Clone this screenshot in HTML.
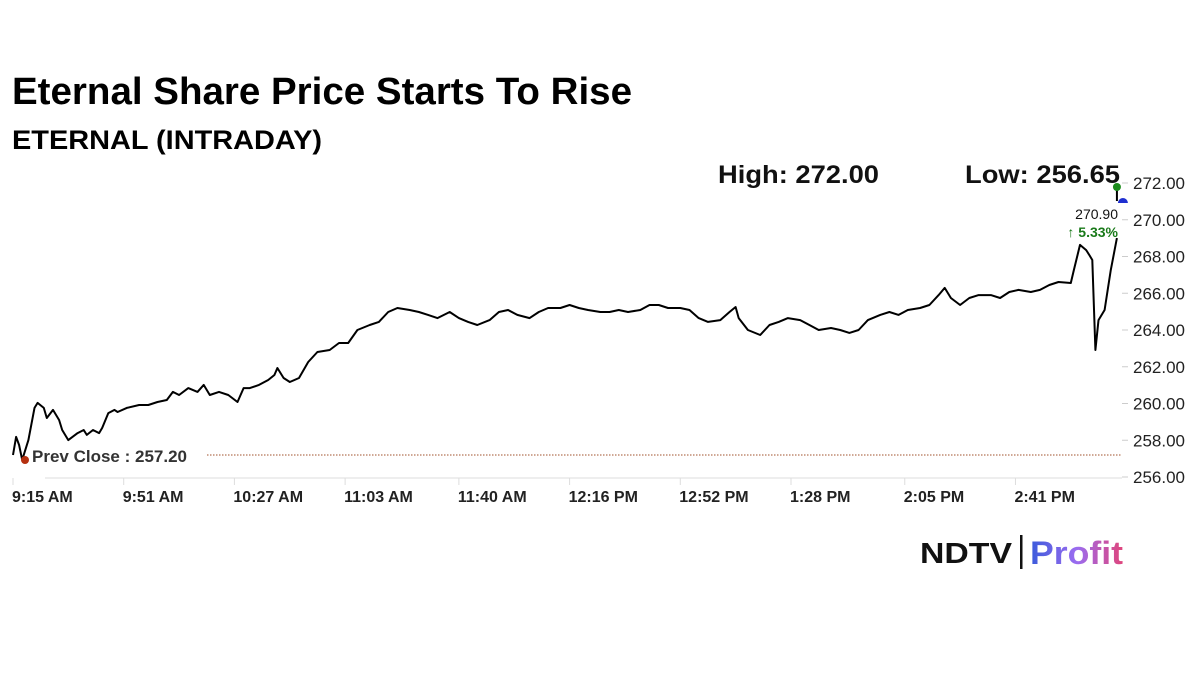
<!DOCTYPE html>
<html><head><meta charset="utf-8"><style>
html,body{margin:0;padding:0;background:#fff;width:1200px;height:675px;overflow:hidden}
svg{display:block;font-family:"Liberation Sans",Arial,sans-serif}
</style></head><body>
<svg id="chart" width="1200" height="675" viewBox="0 0 1200 675">
<defs><linearGradient id="pg" x1="0" x2="1"><stop offset="0" stop-color="#3b5bdb"/><stop offset="0.5" stop-color="#9b6cf0"/><stop offset="1" stop-color="#e0457b"/></linearGradient></defs>
<text x="12" y="104" font-size="38" font-weight="bold" fill="#000" textLength="620" lengthAdjust="spacingAndGlyphs">Eternal Share Price Starts To Rise</text>
<text x="12" y="149" font-size="27" font-weight="bold" fill="#000" textLength="310" lengthAdjust="spacingAndGlyphs">ETERNAL (INTRADAY)</text>
<text x="718" y="183" font-size="25" font-weight="bold" fill="#111" textLength="161" lengthAdjust="spacingAndGlyphs">High: 272.00</text>
<text x="965" y="183" font-size="25" font-weight="bold" fill="#111" textLength="155" lengthAdjust="spacingAndGlyphs">Low: 256.65</text>
<line x1="45" y1="478" x2="1122" y2="478" stroke="#ddd" stroke-width="1"/>
<g id="yaxis"></g>
<g id="xaxis"></g>
<g id="series"></g>
<g>
<text x="920" y="563" font-size="29" font-weight="900" fill="#111" textLength="92" lengthAdjust="spacingAndGlyphs">NDTV</text>
<rect x="1020" y="535" width="2.5" height="34" fill="#111"/>
<text x="1030" y="564" font-size="32" font-weight="bold" fill="url(#pg)" textLength="93" lengthAdjust="spacingAndGlyphs">Profit</text>
</g>
</svg>
<script>
const yTicks=[256,258,260,262,264,266,268,270,272];
const xTickLabels=["9:15 AM","9:51 AM","10:27 AM","11:03 AM","11:40 AM","12:16 PM","12:52 PM","1:28 PM","2:05 PM","2:41 PM"];
const xTickMinutes=[0,36,72,108,145,181,217,253,290,326];
const minutes=[0,1,2,3,5,7,8,10,11,13,15,16,18,21,23,24,26,28,29,31,33,34,37,41,44,47,50,52,54,57,60,62,64,67,70,73,75,77,80,83,85,86,88,90,93,96,99,103,106,109,112,116,119,122,125,129,132,135,138,142,145,148,151,155,158,161,164,168,171,174,178,181,184,187,191,194,197,200,204,207,210,213,217,220,223,226,230,233,235,236,239,243,246,249,252,256,259,262,266,269,272,275,278,282,285,288,291,295,298,301,303,305,308,311,314,318,321,324,327,331,334,337,340,344,345,347,349,350,351,352,353,355,356,357,359];
const prices=[257.2,258.18,257.74,256.93,258.01,259.76,260.03,259.76,259.21,259.65,259.1,258.56,258.01,258.39,258.56,258.29,258.56,258.39,258.67,259.48,259.65,259.54,259.76,259.92,259.92,260.08,260.19,260.63,260.46,260.84,260.63,261.01,260.46,260.63,260.46,260.08,260.84,260.84,261.01,261.28,261.55,261.93,261.39,261.17,261.39,262.26,262.8,262.91,263.29,263.29,264.0,264.27,264.44,264.98,265.2,265.09,264.98,264.82,264.65,264.98,264.65,264.44,264.27,264.54,264.98,265.09,264.82,264.65,264.98,265.2,265.2,265.36,265.2,265.09,264.98,264.98,265.09,264.98,265.09,265.36,265.36,265.2,265.2,265.09,264.65,264.44,264.54,264.98,265.25,264.65,264.0,263.73,264.27,264.44,264.65,264.54,264.27,264.0,264.11,264.0,263.84,264.0,264.54,264.82,264.98,264.82,265.09,265.2,265.36,265.9,266.29,265.74,265.36,265.74,265.9,265.9,265.74,266.07,266.18,266.07,266.18,266.45,266.61,266.56,267.27,268.63,268.35,268.08,267.81,262.91,264.54,265.09,266.18,267.27,269.0];
const prevClose=257.2, lastPrice="270.90", changePct="5.33%";
const svg=document.getElementById('chart'),NS="http://www.w3.org/2000/svg";
const y=v=>477-(v-256)*18.375;
const x=m=>13+m*3.075;
function mk(t,a,p){const e=document.createElementNS(NS,t);for(const k in a)e.setAttribute(k,a[k]);(p||svg).appendChild(e);return e;}
const ya=document.getElementById('yaxis');
yTicks.forEach(v=>{const l=mk('line',{x1:1122,x2:1128,y1:y(v),y2:y(v),stroke:'#ccc'},ya);


const t=mk('text',{x:1133,y:y(v)+6,'font-size':17,fill:'#222'},ya);t.textContent=v.toFixed(2);

});
const xa=document.getElementById('xaxis');
xTickLabels.forEach((s,i)=>{const px=x(xTickMinutes[i]);
const l=mk('line',{x1:px,x2:px,y1:478,y2:485,stroke:'#ddd'},xa);


const t=mk('text',{x:px-1,y:502,'font-size':16,'font-weight':'bold',fill:'#222'},xa);t.textContent=s;

});
const sg=document.getElementById('series');
const pl=mk('line',{x1:207,x2:1122,y1:y(prevClose),y2:y(prevClose),stroke:'#a0522d','stroke-width':1,'stroke-dasharray':'1.5,1.5'},sg);


const pt=mk('text',{x:32,y:y(prevClose)+7,'font-size':17,'font-weight':'bold',fill:'#333'},sg);pt.textContent="Prev Close : "+prevClose.toFixed(2);


const path=mk('polyline',{points:minutes.map((m,i)=>x(m).toFixed(1)+","+y(prices[i]).toFixed(1)).join(" "),fill:'none',stroke:'#000','stroke-width':2,'stroke-linejoin':'round'},sg);


const rd=mk('circle',{cx:25,cy:460,r:4,fill:'#b5300f'},sg);


const lx=x(minutes[minutes.length-1]);
mk('line',{x1:lx,x2:lx,y1:187,y2:201,stroke:'#000','stroke-width':2},sg);
const gd=mk('circle',{cx:lx,cy:187,r:4,fill:'#1a8a1a'},sg);


const bd=mk('path',{d:`M${lx+1} 203 A5 5 0 0 1 ${lx+11} 203 Z`,fill:'#1f2fd0'},sg);


const lt=mk('text',{x:1118,y:219,'font-size':14,'text-anchor':'end',fill:'#111'},sg);lt.textContent=lastPrice;


const ct=mk('text',{x:1118,y:237,'font-size':14,'font-weight':'bold','text-anchor':'end',fill:'#1a7a1a'},sg);ct.textContent="\u2191 "+changePct;


</script>
</body></html>
